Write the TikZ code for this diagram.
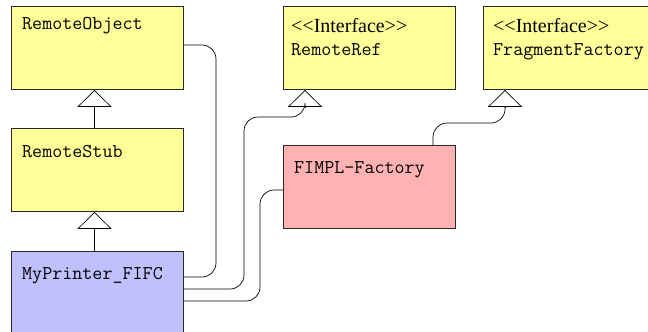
\documentclass[tikz,border=0pt]{standalone}
\usepackage{fontspec}
\setmainfont{Liberation Serif}
\usetikzlibrary{arrows.meta,calc}
\definecolor{boxyellow}{RGB}{255,255,153}
\definecolor{boxblue}{RGB}{192,192,255}
\definecolor{boxpink}{RGB}{255,178,178}
\definecolor{boxline}{RGB}{40,40,40}
\tikzset{
  umlbox/.style={draw=boxline, line width=0.8pt, anchor=north west, inner sep=0pt,
    minimum width=172pt, minimum height=83pt},
  boxtext/.style={anchor=base west, inner sep=0pt, font=\fontsize{19.5}{22}\selectfont\ttfamily},
  stereo/.style={anchor=base west, inner sep=0pt, font=\fontsize{20}{22}\selectfont\rmfamily},
  conn/.style={draw=black, line width=0.7pt, rounded corners=14pt},
  inherit/.style={draw=black, line width=0.7pt, -{Triangle[open,length=17pt,width=34pt]}},
}
\begin{document}
\begin{tikzpicture}[x=1pt,y=-1pt]
\useasboundingbox (0,0) rectangle (648,332);
\clip (0,0) rectangle (648,332);
% boxes
\node[umlbox, fill=boxyellow] (ro) at (11,6) {};
\node[umlbox, fill=boxyellow] (rs) at (11,128) {};
\node[umlbox, fill=boxblue, minimum height=110pt] (mp) at (11,251) {};
\node[umlbox, fill=boxyellow] (rr) at (283,6) {};
\node[umlbox, fill=boxyellow, minimum width=190pt] (ff) at (483,6) {};
\node[umlbox, fill=boxpink] (fi) at (283,145) {};
% texts
\node[boxtext] (tro) at ($(ro.north west)+(11,23)$) {RemoteObject};
\node[boxtext] (trs) at ($(rs.north west)+(11,29)$) {RemoteStub};
\node[boxtext] (tmp) at ($(mp.north west)+(11,28)$) {MyPrinter\_FIFC};
\node[stereo] (srr) at ($(rr.north west)+(8,26)$) {{<}{<}Interface{>}{>}};
\node[boxtext] (trr) at ($(rr.north west)+(8,49)$) {RemoteRef};
\node[stereo] (sff) at ($(ff.north west)+(10,26)$) {{<}{<}Interface{>}{>}};
\node[boxtext] (tff) at ($(ff.north west)+(10,49)$) {FragmentFactory};
\node[boxtext] (tfi) at ($(fi.north west)+(11,28)$) {FIMPL-Factory};
% anchor coordinates
\coordinate (roB) at ($(ro.south west)+(83.5,0)$);
\coordinate (rsT) at ($(rs.north west)+(83.5,0)$);
\coordinate (rsB) at ($(rs.south west)+(83.5,0)$);
\coordinate (mpT) at ($(mp.north west)+(83.5,0)$);
\coordinate (roR) at ($(ro.north east)+(0,39)$);
\coordinate (mpR1) at ($(mp.north east)+(0,26)$);
\coordinate (mpR2) at ($(mp.north east)+(0,38)$);
\coordinate (mpR3) at ($(mp.north east)+(0,50)$);
\coordinate (rrB) at ($(rr.south west)+(22,0)$);
\coordinate (ffB) at ($(ff.south west)+(22,0)$);
\coordinate (fiL) at ($(fi.north west)+(0,45)$);
\coordinate (fiT) at ($(fi.north west)+(150,0)$);
% inheritance
\draw[inherit] (rsT) -- (roB);
\draw[inherit] (mpT) -- (rsB);
% connectors
\draw[conn] (roR) -| (216,277) -- (mpR1);
\draw[conn] (mpR2) -| (244,117) -| ($(rrB)+(0,17)$);
\draw[inherit] ($(rrB)+(0,18)$) -- (rrB);
\draw[conn] (mpR3) -| (260,190) -- (fiL);
\draw[conn] (fiT) |- (505,123) -- ($(ffB)+(0,17)$);
\draw[inherit] ($(ffB)+(0,18)$) -- (ffB);
\end{tikzpicture}
\end{document}
